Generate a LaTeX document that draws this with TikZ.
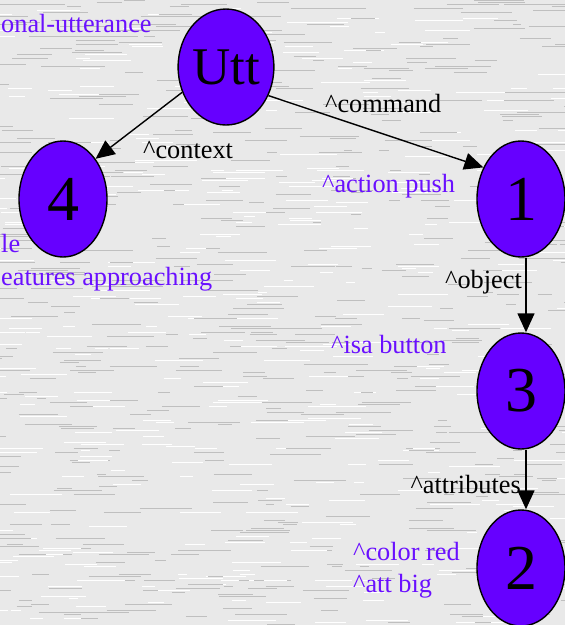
\documentclass[tikz,border=0pt]{standalone}
\usepackage{fontspec}
\setmainfont{Liberation Serif}
\usetikzlibrary{shapes.geometric,arrows.meta}
\definecolor{nodefill}{HTML}{6600FF}
\definecolor{featcol}{HTML}{6A10FF}
\definecolor{bggray}{HTML}{E9E9E9}
\begin{document}
\begin{tikzpicture}[x=1pt,y=-1pt,
  fnode/.style={ellipse,draw=black,line width=1.4pt,fill=nodefill,minimum width=88pt,minimum height=116pt,inner sep=0pt},
  digit/.style={font=\fontsize{64}{64}\selectfont},
  uttfont/.style={font=\fontsize{53}{53}\selectfont},
  feat/.style={text=featcol,font=\fontsize{26.3}{26.3}\selectfont,inner sep=0pt},
  elabel/.style={text=black,font=\fontsize{26.3}{26.3}\selectfont,inner sep=0pt},
  conn/.style={line width=1.4pt,-{Triangle[length=19pt,width=17pt]}},
  streakd/.style={draw=black!25,line width=0.8pt},
  streakl/.style={draw=white,line width=0.8pt}]
\useasboundingbox (0,0) rectangle (565,625);
\fill[bggray] (0,0) rectangle (565,625);
\begin{scope}
\clip (0,0) rectangle (565,625);
\pgfmathsetseed{4242}
\foreach \i in {1,...,1000}{
  \pgfmathsetmacro\xa{rnd*600-30}
  \pgfmathsetmacro\ya{round(rnd*312)*2}
  \pgfmathsetmacro\ln{8+rnd*45}
  \pgfmathparse{rnd<0.6 ? 1 : 0}
  \ifnum\pgfmathresult=1
    \draw[streakd] (\xa,\ya) -- ++(\ln,0);
  \else
    \draw[streakl] (\xa,\ya) -- ++(\ln,0);
  \fi
}
\end{scope}

\node[fnode,uttfont] (utt) at (226,67) {Utt};
\node[fnode,digit] (n4) at (63,199) {4};
\node[fnode,digit] (n1) at (521,199) {1};
\node[fnode,digit] (n3) at (521,391) {3};
\node[fnode,digit] (n2) at (521,568) {2};

\draw[conn] (utt.210) -- (n4.51);
\draw[conn] (utt.326) -- (n1.140);
\draw[conn] ([xshift=5pt]n1.south) -- ([xshift=5pt]n3.north);
\draw[conn] ([xshift=5pt]n3.south) -- ([xshift=5pt]n2.north);

\node[elabel,anchor=base west] (lcontext) at (143,158) {\textasciicircum context};
\node[elabel,anchor=base west] (lcommand) at (325,112) {\textasciicircum command};
\node[elabel,anchor=base east] (lobject) at (522,288) {\textasciicircum object};
\node[elabel,anchor=base east] (lattr) at (521,493) {\textasciicircum attributes};

\node[feat,anchor=base west] (futt) at (1,32) {onal-utterance};
\node[feat,anchor=base west] (f4a) at (1,252) {le};
\node[feat,anchor=base west] (f4b) at (1,285) {eatures approaching};
\node[feat,anchor=base west] (f1) at (322,192) {\textasciicircum action push};
\node[feat,anchor=base west] (f3) at (331,353) {\textasciicircum isa button};
\node[feat,anchor=base west] (f2a) at (353,560) {\textasciicircum color red};
\node[feat,anchor=base west] (f2b) at (353,592) {\textasciicircum att big};
\end{tikzpicture}
\end{document}
